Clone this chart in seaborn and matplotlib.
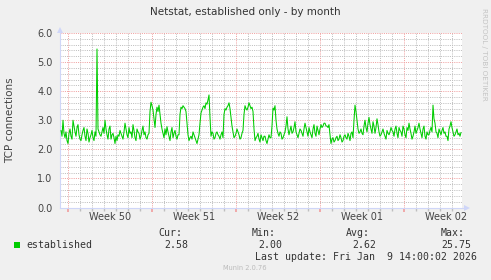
import numpy as np
import pandas as pd
import matplotlib
matplotlib.use("Agg")
import matplotlib.pyplot as plt
import matplotlib.dates as mdates
from matplotlib.patches import Rectangle
from matplotlib.ticker import MultipleLocator, FormatStrFormatter, NullFormatter
import seaborn as sns

# ---------------- data ----------------
title = "Netstat, established only - by month"
ylabel = "TCP connections"
series_name = "established"
start_time = "2025-12-07 10:00"
step = "2h"
values = [
    2.65, 2.45, 3.00, 2.55, 2.40, 2.60, 2.30, 2.20, 2.55, 2.70, 2.45, 2.35, 3.00, 2.80, 2.60, 2.45, 2.75, 2.85, 2.50, 2.35,
    2.30, 2.50, 2.65, 2.75, 2.45, 2.30, 2.70, 2.55, 2.25, 2.40, 2.50, 2.65, 2.40, 2.30, 2.60, 2.45, 5.45, 2.70, 2.60, 2.50,
    2.45, 2.60, 2.75, 2.55, 3.00, 2.70, 2.50, 2.35, 2.70, 2.80, 2.35, 2.50, 2.55, 2.40, 2.20, 2.45, 2.30, 2.50, 2.45, 2.65,
    2.55, 2.45, 2.35, 2.60, 2.90, 2.70, 2.50, 2.40, 2.75, 2.55, 2.60, 2.40, 2.85, 2.65, 2.40, 2.30, 2.70, 2.60, 2.55, 2.35,
    2.45, 2.65, 2.80, 2.50, 2.60, 2.40, 2.35, 2.50, 2.55, 3.30, 3.62, 3.50, 3.35, 3.05, 2.75, 3.20, 3.45, 3.30, 3.52, 3.20,
    2.90, 2.70, 2.55, 2.40, 2.70, 2.50, 2.78, 2.60, 2.45, 2.30, 2.60, 2.75, 2.40, 2.55, 2.65, 2.45, 2.35, 2.50, 2.50, 3.20,
    3.45, 3.40, 3.50, 3.45, 3.40, 3.30, 2.90, 2.50, 2.30, 2.40, 2.45, 2.35, 2.60, 2.50, 2.40, 2.30, 2.20, 2.35, 2.50, 2.90,
    3.25, 3.35, 3.45, 3.50, 3.40, 3.60, 3.55, 3.70, 3.87, 3.10, 2.45, 2.60, 2.55, 2.35, 2.40, 2.55, 2.60, 2.50, 2.45, 2.35,
    2.50, 2.60, 2.40, 3.20, 3.40, 3.35, 3.45, 3.50, 3.60, 3.40, 3.10, 2.80, 2.60, 2.40, 2.45, 2.55, 2.70, 2.60, 2.50, 2.35,
    2.40, 2.55, 2.65, 3.20, 3.50, 3.40, 3.35, 3.45, 3.60, 3.50, 3.40, 3.45, 3.30, 2.70, 2.30, 2.40, 2.45, 2.55, 2.35, 2.25,
    2.50, 2.40, 2.30, 2.45, 2.45, 2.30, 2.20, 2.35, 2.50, 2.40, 2.40, 2.80, 3.42, 3.35, 3.50, 3.00, 2.70, 2.55, 2.45, 2.60,
    2.55, 2.35, 2.40, 2.50, 2.60, 2.80, 3.12, 2.70, 2.50, 2.65, 2.80, 2.55, 2.60, 2.75, 2.95, 2.60, 2.50, 2.40, 2.55, 2.70,
    2.65, 2.55, 2.45, 2.70, 2.90, 2.75, 2.60, 2.45, 2.75, 2.60, 2.50, 2.40, 2.70, 2.85, 2.55, 2.45, 2.80, 2.65, 2.50, 2.70,
    2.85, 2.75, 2.80, 2.90, 2.90, 2.80, 2.80, 2.75, 2.85, 2.50, 2.20, 2.35, 2.40, 2.25, 2.30, 2.40, 2.45, 2.30, 2.35, 2.50,
    2.40, 2.25, 2.30, 2.45, 2.50, 2.40, 2.35, 2.55, 2.45, 2.30, 2.55, 2.60, 2.40, 3.00, 3.52, 3.30, 3.00, 2.70, 2.55, 2.60,
    2.70, 2.55, 2.50, 2.80, 3.00, 2.75, 2.60, 2.90, 3.10, 2.85, 2.70, 2.55, 2.95, 2.80, 2.55, 2.75, 3.05, 2.85, 2.60, 2.45,
    2.50, 2.60, 2.70, 2.55, 2.45, 2.35, 2.65, 2.55, 2.50, 2.60, 2.75, 2.65, 2.60, 2.45, 2.70, 2.80, 2.55, 2.40, 2.75, 2.65,
    2.60, 2.45, 2.80, 2.70, 2.50, 2.40, 2.75, 2.65, 2.90, 2.70, 2.55, 2.35, 2.45, 2.60, 2.80, 2.55, 2.65, 2.75, 2.90, 2.70,
    2.55, 2.40, 2.70, 2.80, 2.45, 2.35, 2.60, 2.50, 2.50, 2.65, 2.75, 2.60, 3.52, 3.05, 2.90, 2.60, 2.55, 2.40, 2.70, 2.60,
    2.50, 2.65, 2.75, 2.55, 2.60, 2.45, 2.45, 2.30, 2.70, 2.80, 2.95, 2.75, 2.60, 2.45, 2.50, 2.60, 2.70, 2.50, 2.55, 2.45,
    2.58,
]
week_labels = ["Week 50", "Week 51", "Week 52", "Week 01", "Week 02"]
week_starts = ["2025-12-08", "2025-12-15", "2025-12-22", "2025-12-29", "2026-01-05"]
x_range = ["2025-12-07 08:00", "2026-01-09 20:00"]
y_max = 6.0
stats_labels = ["Cur:", "Min:", "Avg:", "Max:"]
stats_values = ["2.58", "2.00", "2.62", "25.75"]
last_update = "Last update: Fri Jan  9 14:00:02 2026"
footer = "Munin 2.0.76"
side_text = "RRDTOOL / TOBI OETIKER"

# ---------------- style ----------------
W, H = 491, 280
sns.set_theme(style="white")
plt.rcParams["font.family"] = ["DejaVu Sans"]
BG = "#F0F0F0"
AXIS_C = "#CFD6F8"
TXT = "#444444"
LINE_C = "#00CC00"
MAJ_GRID = "#F0A0A0"
MIN_GRID = "#BEBEBE"

fig = plt.figure(figsize=(W / 100, H / 100), dpi=100, facecolor=BG)
ax = fig.add_axes([60 / W, 1 - 207.5 / H, 402 / W, 174.5 / H])
ax.set_facecolor("white")

df = pd.DataFrame({
    "time": pd.date_range(start_time, periods=len(values), freq=step),
    "value": values,
})
sns.lineplot(data=df, x="time", y="value", color=LINE_C, linewidth=0.75, ax=ax, zorder=3)

x0, x1 = pd.Timestamp(x_range[0]), pd.Timestamp(x_range[1])
ax.set_xlim(x0, x1)
ax.set_ylim(0, y_max)
ax.set_xlabel("")
ax.set_ylabel("")

# grid
ws = pd.to_datetime(week_starts)
days = pd.date_range(x0.ceil("D"), x1, freq="D")
ax.set_xticks(ws)
ax.set_xticks(days, minor=True)
ax.xaxis.set_major_formatter(NullFormatter())
ax.xaxis.set_minor_formatter(NullFormatter())
ax.yaxis.set_major_locator(MultipleLocator(1.0))
ax.yaxis.set_minor_locator(MultipleLocator(0.2))
ax.yaxis.set_major_formatter(FormatStrFormatter("%.1f"))

dots = (0, (1, 1.2))
ax.grid(which="minor", color=MIN_GRID, linestyle=dots, linewidth=0.72)
ax.grid(which="major", color=MAJ_GRID, linestyle=dots, linewidth=0.72)
ax.set_axisbelow(True)

ax.tick_params(axis="y", which="major", length=2, color=MAJ_GRID, labelsize=7,
               labelcolor=TXT, pad=3.5)
ax.tick_params(axis="y", which="minor", length=2, color=MIN_GRID)
ax.tick_params(axis="x", which="major", length=3, color=MAJ_GRID, bottom=True)
ax.tick_params(axis="x", which="minor", length=2, color=MIN_GRID, bottom=True)

for s in ["top", "right"]:
    ax.spines[s].set_visible(False)
for s in ["left", "bottom"]:
    ax.spines[s].set_color(AXIS_C)
    ax.spines[s].set_linewidth(0.8)
ax.spines["bottom"].set_bounds(mdates.date2num(x0), mdates.date2num(x1 + pd.Timedelta(hours=6)))
ax.spines["left"].set_bounds(0, y_max * 1.02)
ax.plot([1.012], [0], marker=">", markersize=4, color=AXIS_C, transform=ax.transAxes,
        clip_on=False, zorder=5, markeredgewidth=0)
ax.plot([0], [1.02], marker="^", markersize=4, color=AXIS_C, transform=ax.transAxes,
        clip_on=False, zorder=5, markeredgewidth=0)

# week labels at mid-week
sec = ax.secondary_xaxis("bottom")
mids = ws + pd.Timedelta(days=3.5)
sec.set_xticks(mdates.date2num(mids))
sec.set_xticklabels(week_labels)
sec.tick_params(length=0, labelsize=7, labelcolor=TXT, pad=3)
sec.spines["bottom"].set_visible(False)

fig.text(10 / W, 1 - 120 / H, ylabel, rotation=90, ha="center", va="center",
         fontsize=7.5, color=TXT)

# title & side texts
fig.text(245 / W, 1 - 12 / H, title, ha="center", va="center", fontsize=7.5, color="#333333")
fig.text(484 / W, 1 - 54 / H, side_text, rotation=270, ha="center", va="center",
         fontsize=5.2, color="#C4C4C4")
fig.text(245 / W, 1 - 268 / H, footer, ha="center", va="center", fontsize=4.8, color="#BBBBBB")

# legend
mono = "DejaVu Sans Mono"
fig.add_artist(Rectangle((14 / W, 1 - 248 / H), 6 / W, 6 / H, transform=fig.transFigure,
                         facecolor=LINE_C, edgecolor="none"))
fig.text(26 / W, 1 - 245 / H, series_name, ha="left", va="center", fontsize=7.1,
         family=mono, color="#333333")
label_x = [158, 252, 346, 441]
value_x = [164, 258, 352, 441]
for lx, vx, lab, val in zip(label_x, value_x, stats_labels, stats_values):
    fig.text(lx / W, 1 - 233 / H, lab, ha="left", va="center", fontsize=7.1,
             family=mono, color="#333333")
    fig.text(vx / W, 1 - 245 / H, val, ha="left", va="center", fontsize=7.1,
             family=mono, color="#333333")
fig.text(255 / W, 1 - 257 / H, last_update, ha="left", va="center", fontsize=7.1,
         family=mono, color="#333333")

fig.savefig("out.png", dpi=100, facecolor=BG)
